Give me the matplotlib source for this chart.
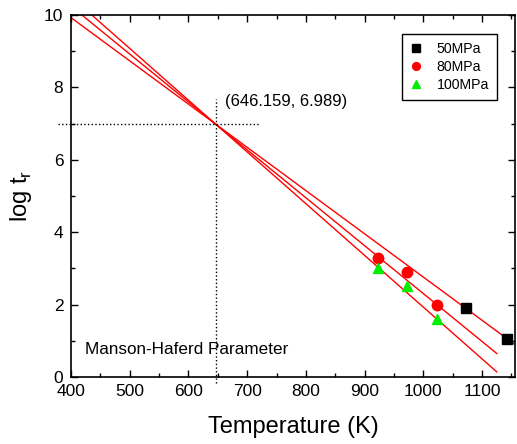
import numpy as np
import matplotlib
matplotlib.use("Agg")
import matplotlib.pyplot as plt
from matplotlib.ticker import MultipleLocator

plt.rcParams['font.family'] = ['Liberation Sans', 'DejaVu Sans']
plt.rcParams['mathtext.fontset'] = 'custom'
plt.rcParams['mathtext.rm'] = 'Liberation Sans'

# measured points (temperature K, log t_r)
t50 = [1073, 1143]
y50 = [1.90, 1.05]
t80 = [923, 973, 1023]
y80 = [3.30, 2.90, 2.00]
t100 = [923, 973, 1023]
y100 = [3.00, 2.50, 1.60]

# Manson-Haferd convergence point and fitted slopes
T_a, logt_a = 646.159, 6.989
slopes = [-0.01195, -0.01324, -0.01430]
line_end = [1170, 1125, 1125]
line_start = 370

fig = plt.figure(figsize=(5.17, 4.44), dpi=100)
ax = fig.add_axes([0.1373, 0.151, 0.8587, 0.815])

for k, xe in zip(slopes, line_end):
    xs = np.array([line_start, xe])
    ax.plot(xs, logt_a + k * (xs - T_a), color='red', lw=1.0, zorder=2)

ax.plot(t50, y50, 's', color='black', ms=7, label='50MPa', zorder=3)
ax.plot(t80, y80, 'o', color='red', ms=7.5, label='80MPa', zorder=3)
ax.plot(t100, y100, '^', color='#00ee00', ms=7.5, label='100MPa', zorder=3)

# guide lines through the convergence point
ax.plot([378, 720], [logt_a, logt_a], ':', color='black', lw=1.0, clip_on=False)
ax.plot([T_a, T_a], [-0.17, 7.68], ':', color='black', lw=1.0, clip_on=False)
ax.text(663, 7.62, f"({T_a}, {logt_a})", fontsize=12, va='center', ha='left')
ax.text(424, 0.75, "Manson-Haferd Parameter", fontsize=12.3, va='center', ha='left')

ax.set_xlim(400, 1156)
ax.set_ylim(0, 10)
ax.xaxis.set_major_locator(MultipleLocator(100))
ax.xaxis.set_minor_locator(MultipleLocator(50))
ax.yaxis.set_major_locator(MultipleLocator(2))
ax.yaxis.set_minor_locator(MultipleLocator(1))
ax.tick_params(which='both', direction='in', top=True, right=True, width=1.0,
               labelsize=12.5)
ax.tick_params(axis='x', which='both', pad=5)
ax.tick_params(axis='y', which='both', pad=5.5)
ax.tick_params(which='major', length=5)
ax.tick_params(which='minor', length=3)
for s in ax.spines.values():
    s.set_linewidth(1.2)

ax.set_xlabel("Temperature (K)", fontsize=17, labelpad=12)
ax.set_ylabel(r"log t$_\mathregular{r}$", fontsize=17, labelpad=7)

leg = ax.legend(loc='upper right', bbox_to_anchor=(0.959, 0.9475), borderaxespad=0,
                fontsize=10.2, fancybox=False, framealpha=1, edgecolor='black',
                markerscale=0.75, handlelength=0.9, handletextpad=1.0,
                labelspacing=0.3, borderpad=0.55)
leg.get_frame().set_linewidth(1.0)

fig.savefig("out.png", dpi=100)
